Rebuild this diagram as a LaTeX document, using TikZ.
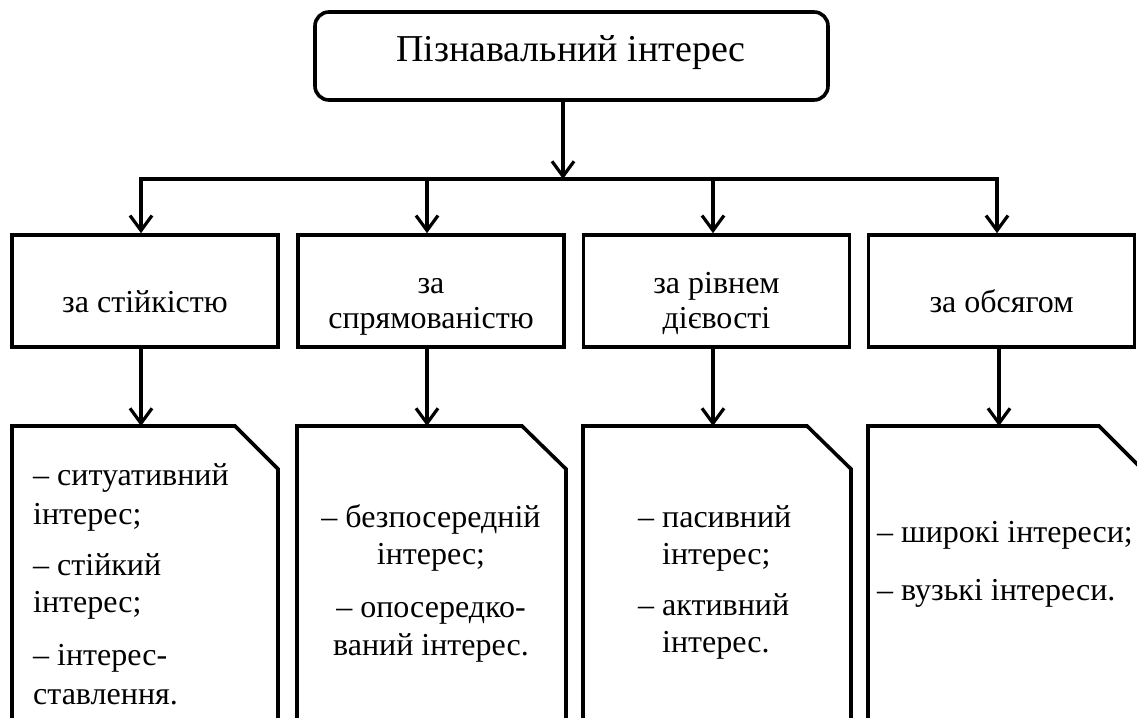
\documentclass[tikz,border=0pt]{standalone}
\usepackage{fontspec}
\setmainfont{LiberationSerif}[Extension=.ttf, UprightFont=*-Regular, BoldFont=*-Bold]
\usetikzlibrary{arrows.meta}
\begin{document}
\begin{tikzpicture}[x=1pt,y=-1pt,
  >={Straight Barb[length=15pt,width=22pt]},
  ln/.style={line width=3.2pt},
  boxline/.style={line width=3.6pt, line join=miter},
  catbox/.style={draw, line width=3.6pt, minimum width=266pt, minimum height=112pt, inner sep=0pt},
  topbox/.style={draw, line width=3.6pt, rounded corners=14pt, minimum width=513pt, minimum height=88pt, inner sep=0pt},
  toptext/.style={font=\fontsize{38}{44}\selectfont, inner sep=0pt, anchor=base},
  item/.style={font=\fontsize{32}{38}\selectfont, inner sep=0pt}]
\useasboundingbox (0,0) rectangle (1137,717);
\clip (0,0) rectangle (1137,717);

% top
\node[topbox] (top) at (571.5,56) {};
\node[toptext] (toptxt) at (571,61) {Пізнавальний інтерес};

% category boxes
\node[catbox] (c1) at (145,291) {};
\node[catbox] (c2) at (431,291) {};
\node[catbox] (c3) at (716.5,291) {};
\node[catbox] (c4) at (1001.5,291) {};

% bus coordinates
\coordinate (bus) at (563,179);
\coordinate (b1) at (141,179);
\coordinate (b2) at (427,179);
\coordinate (b3) at (713,179);
\coordinate (b4) at (997,179);

\draw[ln,->] (top.south -| bus) -- (bus);
\draw[ln,<->] (b1 |- c1.north) -- (b1) -- (b4) -- (b4 |- c4.north);
\draw[ln,->] (b2) -- (b2 |- c2.north);
\draw[ln,->] (b3) -- (b3 |- c3.north);

% lower boxes (top centres)
\coordinate (l1) at (141,426);
\coordinate (l2) at (427,426);
\coordinate (l3) at (713,426);
\coordinate (l4) at (999,426);

\draw[ln,->] (l1 |- c1.south) -- (l1);
\draw[ln,->] (l2 |- c2.south) -- (l2);
\draw[ln,->] (l3 |- c3.south) -- (l3);
\draw[ln,->] (l4 |- c4.south) -- (l4);

\draw[boxline] (12,740) -- (12,426) -- (235,426) -- (278,469) -- (278,740);
\draw[boxline] (297,740) -- (297,426) -- (522,426) -- (566,469) -- (566,740);
\draw[boxline] (583,740) -- (583,426) -- (807,426) -- (851,469) -- (851,740);
\draw[boxline] (868,740) -- (868,426) -- (1099,426) -- (1142,469) -- (1142,740);

% category labels
\node[item, anchor=base] (k1) at (145,312) {за стійкістю};
\node[item, anchor=base] (k2a) at (431,293) {за};
\node[item, anchor=base] (k2b) at (431,328) {спрямованістю};
\node[item, anchor=base] (k3a) at (716.5,293) {за рівнем};
\node[item, anchor=base] (k3b) at (716.5,328) {дієвості};
\node[item, anchor=base] (k4) at (1001.5,312) {за обсягом};

% lower texts
\foreach \nm/\xx/\yy/\anc/\txt in {
  s1/33/485/{base west}/{– ситуативний},
  s2/33/524/{base west}/{інтерес;},
  s3/33/575/{base west}/{– стійкий},
  s4/33/612/{base west}/{інтерес;},
  s5/33/665/{base west}/{– інтерес-},
  s6/33/704/{base west}/{ставлення.},
  d1/431/527/{base}/{– безпосередній},
  d2/431/564/{base}/{інтерес;},
  d3/431/617/{base}/{– опосередко-},
  d4/431/655/{base}/{ваний інтерес.},
  p1/638/527/{base west}/{– пасивний},
  p2/638/564/{base west}/{\phantom{– }інтерес;},
  p3/638/615/{base west}/{– активний},
  p4/638/652/{base west}/{\phantom{– }інтерес.},
  v1/877/542/{base west}/{– широкі інтереси;},
  v2/877/600/{base west}/{– вузькі інтереси.}}
  \node[item, anchor=\anc] (\nm) at (\xx,\yy) {\txt};
\end{tikzpicture}
\end{document}
